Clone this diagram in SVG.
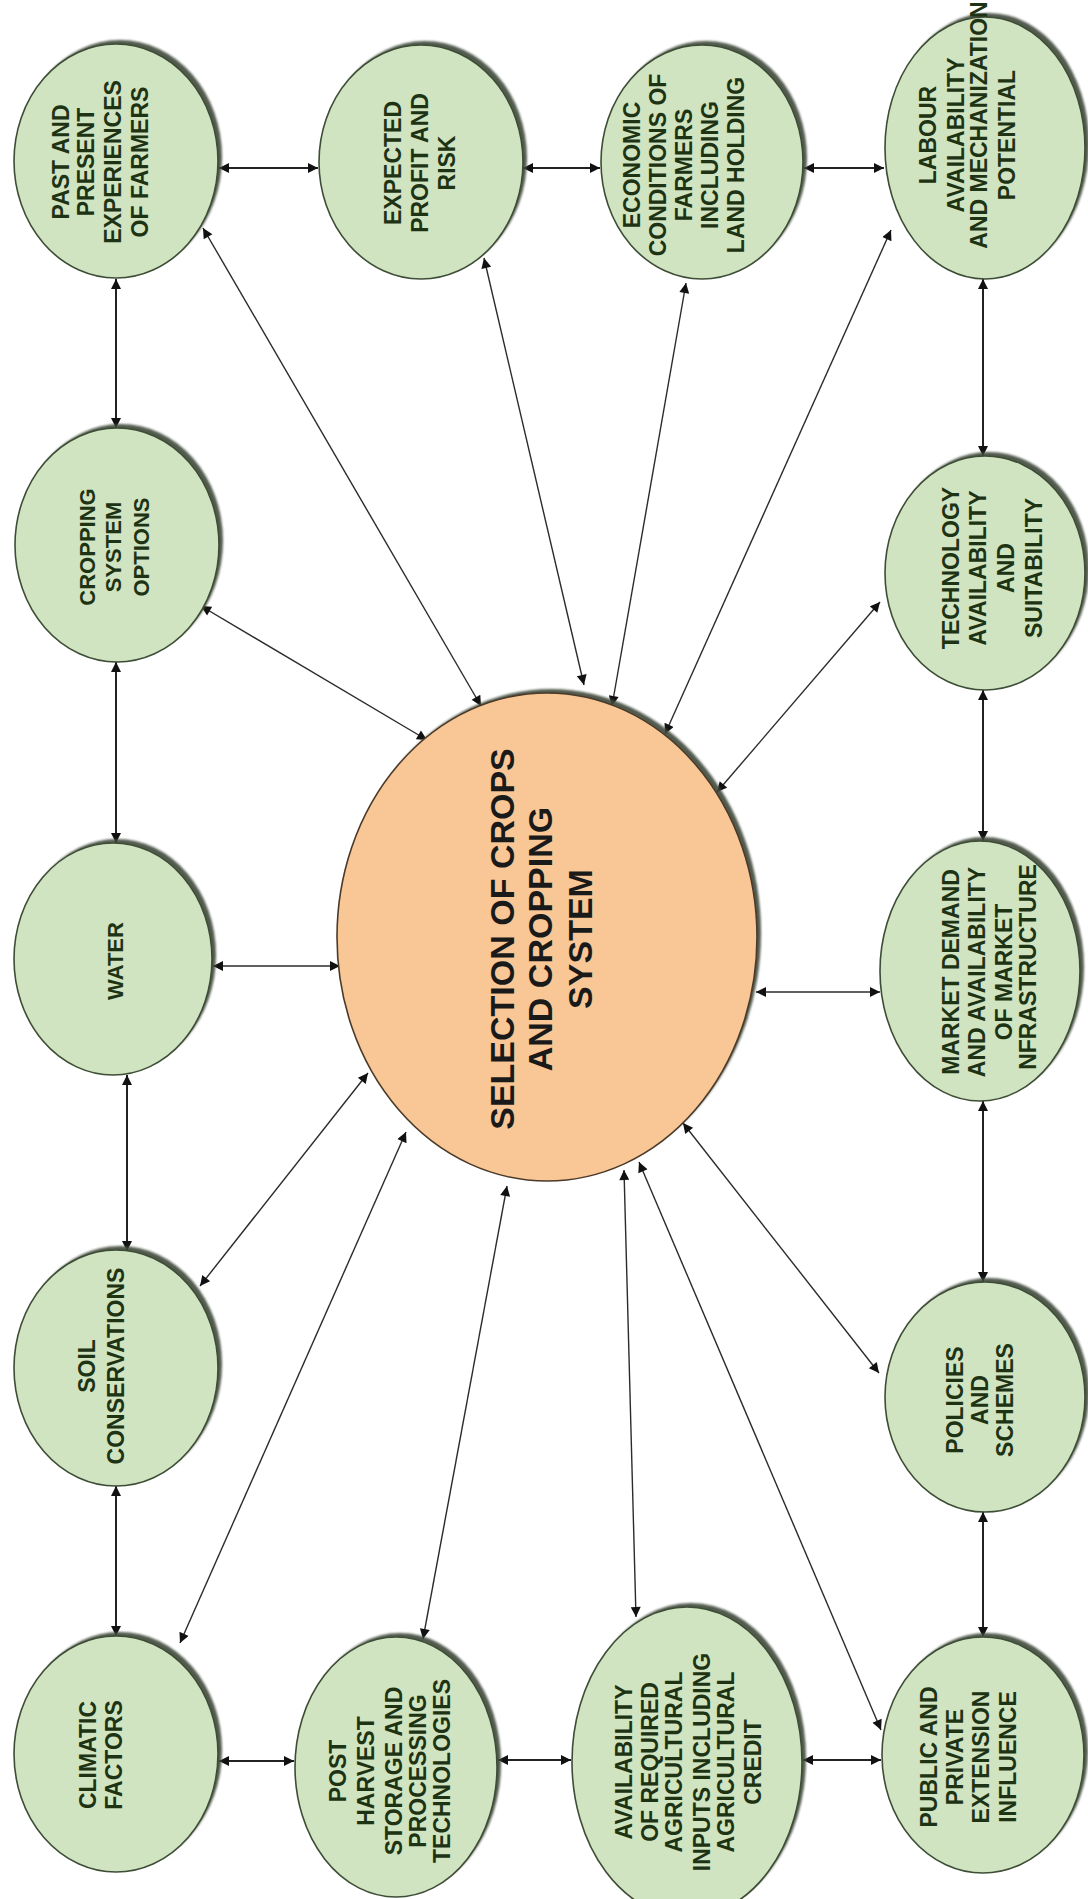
<svg xmlns="http://www.w3.org/2000/svg" width="1088" height="1899" viewBox="0 0 1088 1899">
<style>
.node{fill:#d0e4c1;stroke:#3d4d36;stroke-width:1.6}
.core{fill:#f9c695;stroke:#4a3a2a;stroke-width:1.6}
.shadow{fill:#3f4a3b;opacity:0.9;filter:url(#blur)}
.lbl{font-family:"Liberation Sans",Arial,sans-serif;font-weight:bold;font-size:23px;fill:#1d3314;text-anchor:middle}
.big{font-family:"Liberation Sans",Arial,sans-serif;font-weight:bold;font-size:34px;fill:#1a1a1a;text-anchor:middle}
.nb{stroke:#222;stroke-width:2;fill:none;marker-start:url(#ah);marker-end:url(#ah)}
.cl{stroke:#2b2b2b;stroke-width:1.4;fill:none;marker-start:url(#ah2);marker-end:url(#ah2)}
</style>
<defs>
<filter id="blur" x="-10%" y="-10%" width="120%" height="120%"><feGaussianBlur stdDeviation="1.2"/></filter>
<marker id="ah" viewBox="0 0 10 10" refX="10" refY="5" markerWidth="12" markerHeight="10" markerUnits="userSpaceOnUse" orient="auto-start-reverse"><path d="M0,0 L10,5 L0,10 z" fill="#111"/></marker>
<marker id="ah2" viewBox="0 0 10 10" refX="10" refY="5" markerWidth="12" markerHeight="10" markerUnits="userSpaceOnUse" orient="auto-start-reverse"><path d="M0,0 L10,5 L0,10 z" fill="#111"/></marker>
</defs>
<rect width="1088" height="1899" fill="#ffffff"/>

<g id="connectors">
<line class="nb" x1="219" y1="168" x2="318" y2="168"/>
<line class="nb" x1="523" y1="168" x2="600" y2="168"/>
<line class="nb" x1="804" y1="168" x2="884" y2="168"/>
<line class="nb" x1="116" y1="279" x2="116" y2="428"/>
<line class="nb" x1="116" y1="662" x2="116" y2="843"/>
<line class="nb" x1="127" y1="1075" x2="127" y2="1251"/>
<line class="nb" x1="116" y1="1486" x2="116" y2="1636"/>
<line class="nb" x1="219" y1="1761" x2="294" y2="1761"/>
<line class="nb" x1="498" y1="1760" x2="571" y2="1760"/>
<line class="nb" x1="803" y1="1760" x2="881" y2="1760"/>
<line class="nb" x1="983" y1="1512" x2="983" y2="1637"/>
<line class="nb" x1="983" y1="1101" x2="983" y2="1282"/>
<line class="nb" x1="983" y1="690" x2="983" y2="841"/>
<line class="nb" x1="983" y1="279" x2="983" y2="456"/>

<line class="cl" x1="203" y1="228" x2="481" y2="706"/>
<line class="cl" x1="201" y1="606" x2="427" y2="740"/>
<line class="cl" x1="484" y1="258" x2="584" y2="685"/>
<line class="cl" x1="686" y1="283" x2="612" y2="706"/>
<line class="cl" x1="891" y1="230" x2="665" y2="734"/>
<line class="cl" x1="880" y1="602" x2="717" y2="792"/>
<line class="cl" x1="213" y1="966" x2="340" y2="966"/>
<line class="cl" x1="756" y1="992" x2="880" y2="992"/>
<line class="cl" x1="200" y1="1286" x2="368" y2="1073"/>
<line class="cl" x1="180" y1="1643" x2="406" y2="1132"/>
<line class="cl" x1="423" y1="1639" x2="507" y2="1186"/>
<line class="cl" x1="636" y1="1617" x2="624" y2="1170"/>
<line class="cl" x1="881" y1="1730" x2="639" y2="1162"/>
<line class="cl" x1="879" y1="1373" x2="683" y2="1123"/>
</g>

<g id="center">
<ellipse class="shadow" cx="551" cy="933" rx="210" ry="244"/>
<ellipse class="core" cx="547" cy="937" rx="210" ry="244"/>
<text class="big" transform="translate(0,939) rotate(-90)"><tspan x="0" y="514">SELECTION OF CROPS</tspan><tspan x="0" y="552">AND CROPPING</tspan><tspan x="0" y="592">SYSTEM</tspan></text>
</g>

<g id="past">
<ellipse class="shadow" cx="120" cy="157" rx="102" ry="117"/>
<ellipse class="node" cx="116" cy="161" rx="102" ry="117"/>
<text class="lbl" transform="translate(0,162) rotate(-90)"><tspan x="0" y="69">PAST AND</tspan><tspan x="0" y="94">PRESENT</tspan><tspan x="0" y="121">EXPERIENCES</tspan><tspan x="0" y="148">OF FARMERS</tspan></text>
</g>

<g id="expected">
<ellipse class="shadow" cx="425" cy="158" rx="102" ry="117"/>
<ellipse class="node" cx="421" cy="162" rx="102" ry="117"/>
<text class="lbl" transform="translate(0,163) rotate(-90)"><tspan x="0" y="401">EXPECTED</tspan><tspan x="0" y="428">PROFIT AND</tspan><tspan x="0" y="455">RISK</tspan></text>
</g>

<g id="economic">
<ellipse class="shadow" cx="706" cy="158" rx="101" ry="117"/>
<ellipse class="node" cx="702" cy="162" rx="101" ry="117"/>
<text class="lbl" transform="translate(0,165) rotate(-90)"><tspan x="0" y="640">ECONOMIC</tspan><tspan x="0" y="666">CONDITIONS OF</tspan><tspan x="0" y="692">FARMERS</tspan><tspan x="0" y="718">INCLUDING</tspan><tspan x="0" y="744">LAND HOLDING</tspan></text>
</g>

<g id="labour">
<ellipse class="shadow" cx="989" cy="144" rx="100" ry="131"/>
<ellipse class="node" cx="985" cy="148" rx="100" ry="131"/>
<text class="lbl" transform="translate(0,135) rotate(-90)"><tspan x="0" y="936">LABOUR</tspan><tspan x="0" y="964">AVAILABILITY</tspan><tspan x="10" y="987">AND MECHANIZATION</tspan><tspan x="0" y="1015">POTENTIAL</tspan></text>
</g>

<g id="cropping">
<ellipse class="shadow" cx="121" cy="541" rx="102" ry="117"/>
<ellipse class="node" cx="117" cy="545" rx="102" ry="117"/>
<text class="lbl" style="font-size:22px" transform="translate(0,547) rotate(-90)"><tspan x="0" y="95">CROPPING</tspan><tspan x="0" y="121">SYSTEM</tspan><tspan x="0" y="149">OPTIONS</tspan></text>
</g>

<g id="water">
<ellipse class="shadow" cx="117" cy="955" rx="99" ry="116"/>
<ellipse class="node" cx="113" cy="959" rx="99" ry="116"/>
<text class="lbl" style="font-size:22px" transform="translate(0,961) rotate(-90)"><tspan x="0" y="123">WATER</tspan></text>
</g>

<g id="soil">
<ellipse class="shadow" cx="120" cy="1364" rx="102" ry="118"/>
<ellipse class="node" cx="116" cy="1368" rx="102" ry="118"/>
<text class="lbl" transform="translate(0,1366) rotate(-90)"><tspan x="0" y="95">SOIL</tspan><tspan x="0" y="124">CONSERVATIONS</tspan></text>
</g>

<g id="climatic">
<ellipse class="shadow" cx="120" cy="1750" rx="102" ry="118"/>
<ellipse class="node" cx="116" cy="1754" rx="102" ry="118"/>
<text class="lbl" transform="translate(0,1755) rotate(-90)"><tspan x="0" y="96">CLIMATIC</tspan><tspan x="0" y="122">FACTORS</tspan></text>
</g>

<g id="postharvest">
<ellipse class="shadow" cx="400" cy="1763" rx="101" ry="130"/>
<ellipse class="node" cx="396" cy="1767" rx="101" ry="130"/>
<text class="lbl" transform="translate(0,1771) rotate(-90)"><tspan x="0" y="346">POST</tspan><tspan x="0" y="374">HARVEST</tspan><tspan x="0" y="402">STORAGE AND</tspan><tspan x="0" y="426">PROCESSING</tspan><tspan x="0" y="450">TECHNOLOGIES</tspan></text>
</g>

<g id="availability">
<ellipse class="shadow" cx="691" cy="1758" rx="115" ry="155"/>
<ellipse class="node" cx="687" cy="1762" rx="115" ry="155"/>
<text class="lbl" transform="translate(0,1762) rotate(-90)"><tspan x="0" y="632">AVAILABILITY</tspan><tspan x="0" y="658">OF REQUIRED</tspan><tspan x="0" y="682">AGRICULTURAL</tspan><tspan x="0" y="710">INPUTS INCLUDING</tspan><tspan x="0" y="734">AGRICULTURAL</tspan><tspan x="0" y="761">CREDIT</tspan></text>
</g>

<g id="public">
<ellipse class="shadow" cx="987" cy="1751" rx="101" ry="118"/>
<ellipse class="node" cx="983" cy="1755" rx="101" ry="118"/>
<text class="lbl" transform="translate(0,1757) rotate(-90)"><tspan x="0" y="937">PUBLIC AND</tspan><tspan x="0" y="963">PRIVATE</tspan><tspan x="0" y="989">EXTENSION</tspan><tspan x="0" y="1016">INFLUENCE</tspan></text>
</g>

<g id="policies">
<ellipse class="shadow" cx="989" cy="1393" rx="100" ry="115"/>
<ellipse class="node" cx="985" cy="1397" rx="100" ry="115"/>
<text class="lbl" transform="translate(0,1400) rotate(-90)"><tspan x="0" y="963">POLICIES</tspan><tspan x="0" y="988">AND</tspan><tspan x="0" y="1013">SCHEMES</tspan></text>
</g>

<g id="market">
<ellipse class="shadow" cx="984" cy="967" rx="100" ry="130"/>
<ellipse class="node" cx="980" cy="971" rx="100" ry="130"/>
<text class="lbl" transform="translate(0,972) rotate(-90)"><tspan x="0" y="959">MARKET DEMAND</tspan><tspan x="0" y="985">AND AVAILABILITY</tspan><tspan x="0" y="1012">OF MARKET</tspan><tspan x="5" y="1036">NFRASTRUCTURE</tspan></text>
</g>

<g id="technology">
<ellipse class="shadow" cx="989" cy="569" rx="100" ry="117"/>
<ellipse class="node" cx="985" cy="573" rx="100" ry="117"/>
<text class="lbl" transform="translate(0,568) rotate(-90)"><tspan x="0" y="959">TECHNOLOGY</tspan><tspan x="0" y="986">AVAILABILITY</tspan><tspan x="0" y="1014">AND</tspan><tspan x="0" y="1042">SUITABILITY</tspan></text>
</g>
</svg>
